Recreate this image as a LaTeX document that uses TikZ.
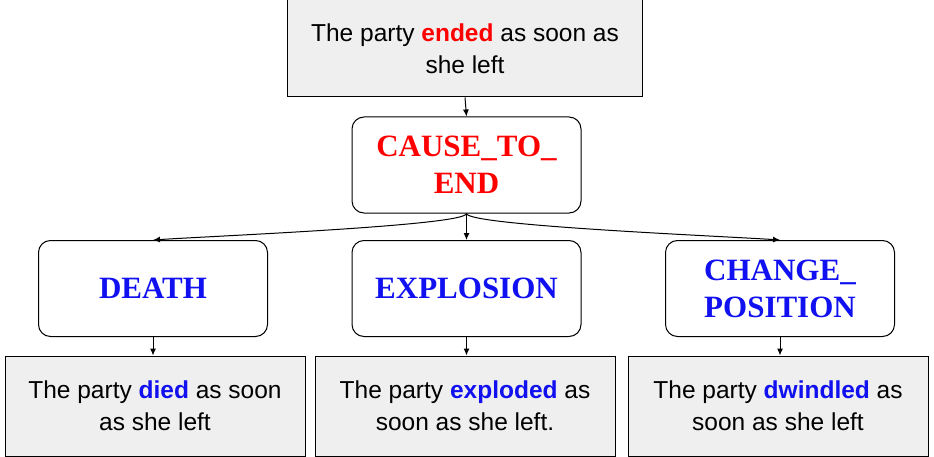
\documentclass[tikz,border=0pt]{standalone}
\usepackage{fontspec}
\setmainfont{Liberation Sans}
\newfontfamily\frameface{Liberation Serif}
\usetikzlibrary{arrows.meta, positioning}
\definecolor{boxgray}{HTML}{EFEFEF}
\definecolor{frblue}{HTML}{1010F0}
\tikzset{
    sentence/.style = {draw, fill=boxgray, line width=1pt, minimum width=300pt, minimum height=100pt, align=center, font=\fontsize{24.5}{32}\selectfont},
    frame/.style = {draw, fill=white, rounded corners=12pt, line width=1pt, minimum width=229pt, minimum height=96pt, align=center, font=\frameface\bfseries\fontsize{31}{37}\selectfont},
    link/.style = {-{Latex[length=7pt,width=6pt]}, line width=1pt}
}
\begin{document}
\begin{tikzpicture}[x=1pt,y=1pt]
    \useasboundingbox (0,0) rectangle (934,456);
    % source sentence and its frame
    \node [sentence, minimum width=355pt, minimum height=97pt] (top) at (465,407.5) {The party \textcolor{red}{\textbf{ended}} as soon as\\she left};
    \node [frame] (cause) at (466.5,291) {\textcolor{red}{CAUSE\_TO\_}\\\textcolor{red}{END}};
    % target frames
    \node [frame] (death) at (153,167.5) {\textcolor{frblue}{DEATH}};
    \node [frame] (explosion) at (466.5,167.5) {\textcolor{frblue}{EXPLOSION}};
    \node [frame] (change) at (780,167.5) {\textcolor{frblue}{CHANGE\_}\\\textcolor{frblue}{POSITION}};
    % target sentences
    \node [sentence] (s1) at (155,50) {The party \textcolor{frblue}{\textbf{died}} as soon\\as she left};
    \node [sentence] (s2) at (465,50) {The party \textcolor{frblue}{\textbf{exploded}} as\\soon as she left.};
    \node [sentence] (s3) at (778,50) {The party \textcolor{frblue}{\textbf{dwindled}} as\\soon as she left};
    \draw [link] (top.south) -- (cause.north);
    \draw [link] (cause.south) .. controls +(0,-12) and +(60,4) .. (death.north);
    \draw [link] (cause.south) -- (explosion.north);
    \draw [link] (cause.south) .. controls +(0,-12) and +(-60,4) .. (change.north);
    \draw [link] (death.south) -- (death.south |- s1.north);
    \draw [link] (explosion.south) -- (explosion.south |- s2.north);
    \draw [link] (change.south) -- (change.south |- s3.north);
\end{tikzpicture}
\end{document}
